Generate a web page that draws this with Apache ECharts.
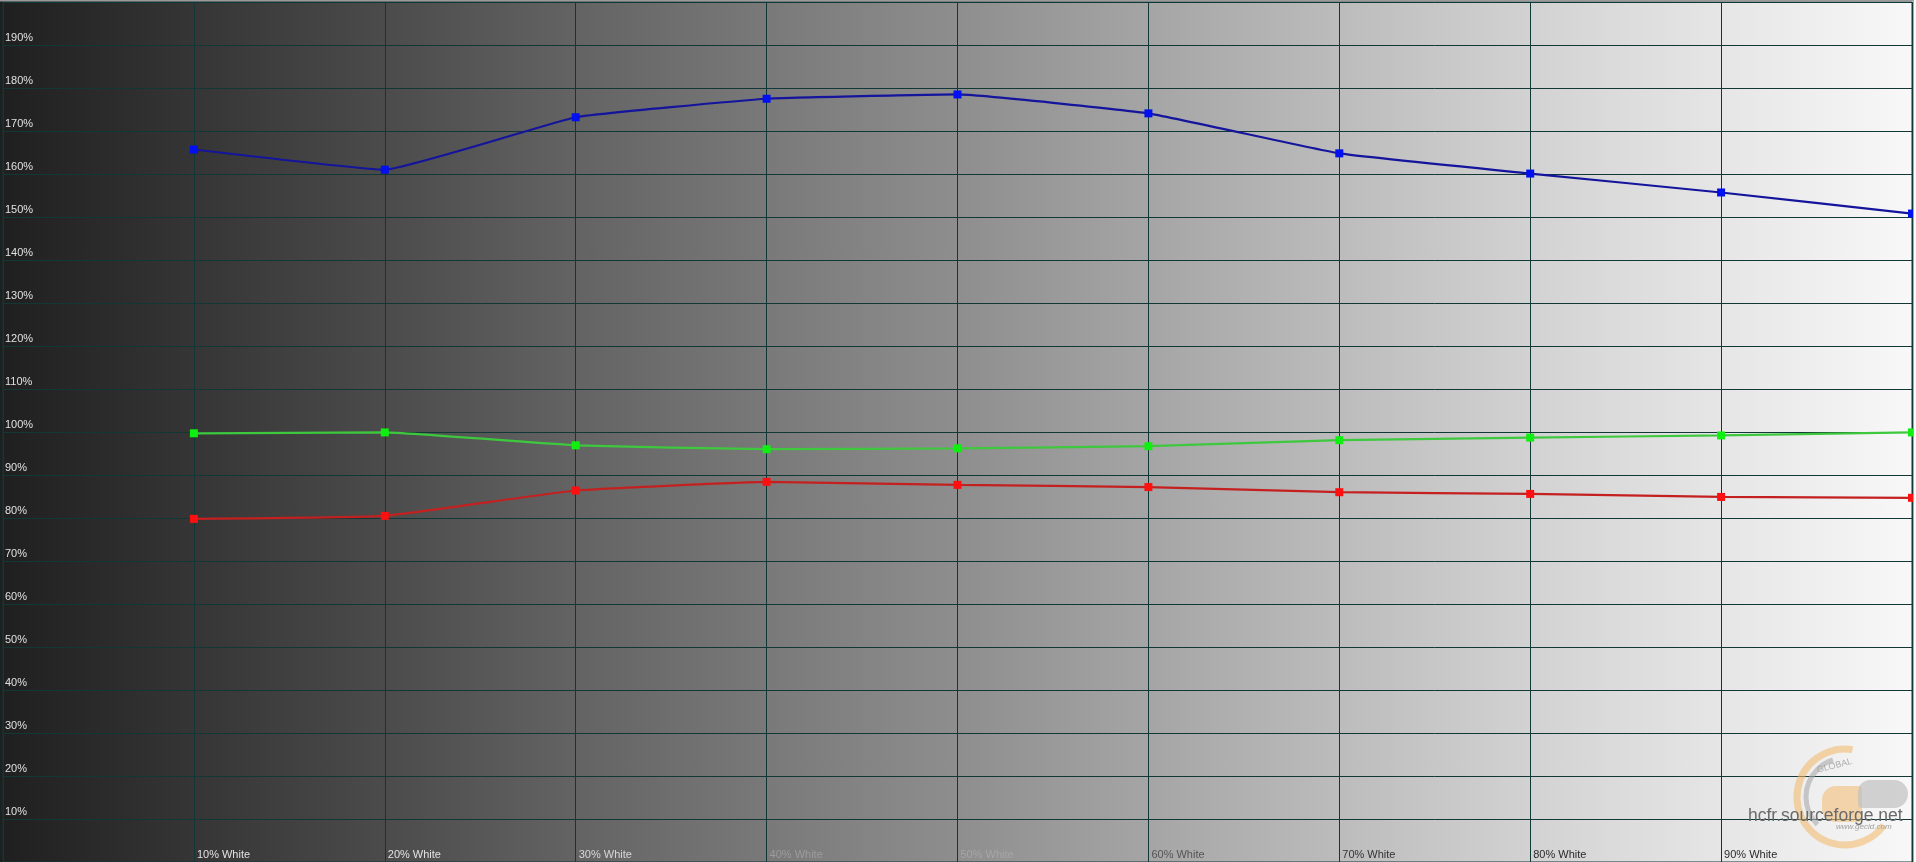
<!DOCTYPE html>
<html><head><meta charset="utf-8">
<script src="https://cdn.jsdelivr.net/npm/echarts@6/dist/echarts.min.js"></script>
<style>
html,body{margin:0;padding:0;background:#fbfbfb;overflow:hidden}
#c{position:absolute;left:0;top:0;width:1916px;height:862px;
background:linear-gradient(to right,#1f1f1f 0px,#353535 192px,#4b4b4b 383px,#636363 575px,#797979 766px,#8e8e8e 958px,#a5a5a5 1149px,#bcbcbc 1340px,#d2d2d2 1531px,#e6e6e6 1722px,#f8f8f8 1913px,#fbfbfb 1916px);}
</style></head><body><div id="c"></div>
<script>
// ---- data ----
const levels = [10, 20, 30, 40, 50, 60, 70, 80, 90, 100];
const xTickLabels = ['10% White','20% White','30% White','40% White','50% White','60% White','70% White','80% White','90% White'];
const blueValues  = [165.7, 161.0, 173.2, 177.5, 178.5, 174.1, 164.8, 160.1, 155.7, 150.8];
const greenValues = [99.7, 99.9, 96.9, 96.0, 96.2, 96.7, 98.1, 98.7, 99.2, 99.9];
const redValues   = [79.8, 80.5, 86.4, 88.4, 87.7, 87.2, 86.0, 85.6, 84.9, 84.7];

// ---- styles ----
const xLabelColors = ['#e2e2e2','#e2e2e2','#d8d8d8','#9c9c9c','#a6a6a6','#555555','#333333','#2a2a2a','#2a2a2a'];
const gridColor = '#123737';
const FONT = '"Liberation Sans", Arial, sans-serif';

function pairs(vals){ return levels.map((x,i)=>[x, vals[i]]); }
function lineSeries(name, vals, lineColor, markColor){
  return {
    name, type:'line', data: pairs(vals), symbol:'rect', symbolSize:8,
    smooth:0.1, clip:true,
    lineStyle:{color:lineColor, width:2.2},
    itemStyle:{color:markColor, borderWidth:0},
    emphasis:{disabled:true}
  };
}

const chart = echarts.init(document.getElementById('c'), null, {renderer:'canvas'});
chart.setOption({
  animation:false,
  backgroundColor:'transparent',
  grid:{left:1, right:4, top:2, height:861.4, show:true, borderColor:gridColor, borderWidth:1, backgroundColor:'transparent', containLabel:false},
  xAxis:{
    type:'value', min:0, max:100, interval:10,
    axisLine:{show:false}, axisTick:{show:false},
    splitLine:{show:true, lineStyle:{color:gridColor, width:1}},
    axisLabel:{
      inside:true, margin:2, align:'left', verticalAlign:'bottom',
      padding:[0,0,0,3], fontFamily:FONT, fontSize:11,
      formatter:(v)=>{ const i = Math.round(v/10)-1; return (i>=0 && i<xTickLabels.length) ? xTickLabels[i] : ''; },
      color:(v)=>{ const i = Math.round(v/10)-1; return xLabelColors[Math.max(0,Math.min(i,xLabelColors.length-1))]; }
    }
  },
  yAxis:{
    type:'value', min:0, max:200, interval:10,
    axisLine:{show:false}, axisTick:{show:false},
    splitLine:{show:true, lineStyle:{color:gridColor, width:1}},
    axisLabel:{
      inside:true, margin:2, align:'left', verticalAlign:'bottom',
      padding:[0,0,2,0], fontFamily:FONT, fontSize:11, color:'#e0e0e0',
      formatter:(v)=> (v>0 && v<200) ? v+'%' : ''
    }
  },
  series:[
    lineSeries('Red', redValues, '#c42020', '#ff1010'),
    lineSeries('Green', greenValues, '#3ec83e', '#10f010'),
    lineSeries('Blue', blueValues, '#14149c', '#0010f0')
  ],
  graphic:[
    {type:'rect', shape:{x:0, y:0, width:1916, height:1.5}, style:{fill:'#9a9a9a'}, silent:true, z:100},
    {type:'rect', shape:{x:1913, y:0, width:1, height:862}, style:{fill:'#a8a8a8'}, silent:true, z:100},
    {type:'rect', shape:{x:1914, y:0, width:2, height:862}, style:{fill:'#fbfbfb'}, silent:true, z:100},
    // watermark logo
    {type:'arc', shape:{cx:1845, cy:797, r:48, startAngle:-Math.PI*0.45, endAngle:Math.PI*0.2, clockwise:false},
      style:{stroke:'#f2b866', lineWidth:7, fill:null, opacity:0.55}, silent:true, z:50},
    {type:'arc', shape:{cx:1845, cy:797, r:39, startAngle:Math.PI*0.75, endAngle:Math.PI*1.4},
      style:{stroke:'#aaaaaa', lineWidth:5, fill:null, opacity:0.6}, silent:true, z:50},
    {type:'rect', shape:{x:1822, y:786, width:40, height:36, r:[14,4,4,14]}, style:{fill:'#f4c07a', opacity:0.6}, silent:true, z:50},
    {type:'rect', shape:{x:1858, y:780, width:50, height:28, r:[12,14,14,4]}, style:{fill:'#c0c0c0', opacity:0.7}, silent:true, z:50},
    {type:'text', x:1816, y:766, rotation:0.25, style:{text:'GLOBAL', font:'9px '+FONT, fill:'#9a9a9a', opacity:0.8}, silent:true, z:51},
    {type:'text', x:1836, y:823, style:{text:'www.gecid.com', font:'italic 8px '+FONT, fill:'#a0a0a0'}, silent:true, z:51},
    {type:'text', x:1748, y:807, style:{text:'hcfr.sourceforge.net', font:'17.5px '+FONT, fill:'#6a6a6a'}, silent:true, z:52}
  ]
});
</script></body></html>
